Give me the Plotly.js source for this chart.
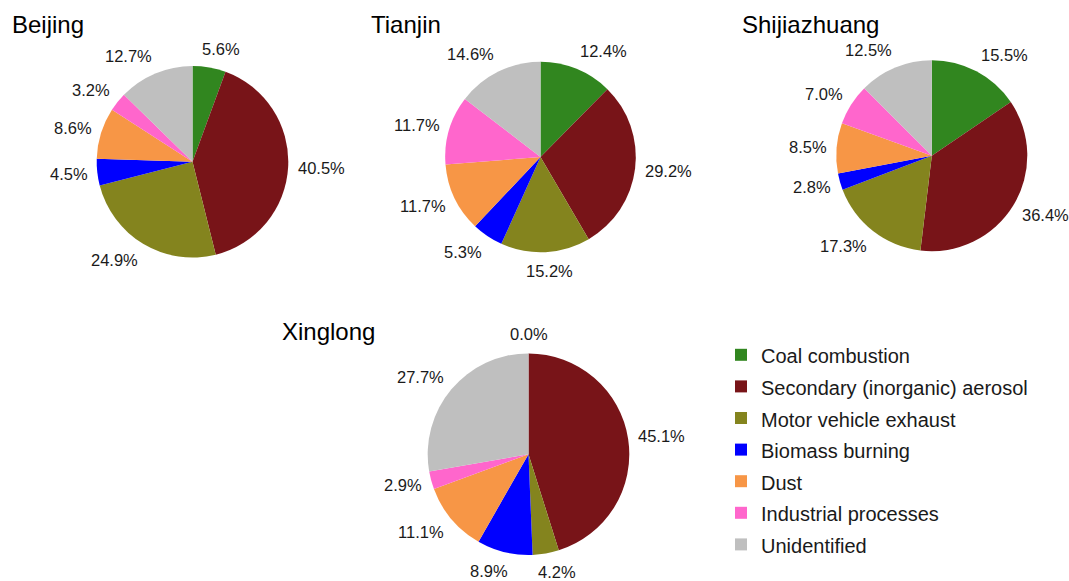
<!DOCTYPE html>
<html>
<head>
<meta charset="utf-8">
<script src="https://cdn.plot.ly/plotly-3.0.1.min.js"></script>
<style>html,body{margin:0;padding:0;background:#fff;}#chart{width:1069px;height:581px;}</style>
</head>
<body>
<div id="chart"></div>
<script>
// ---- data ----
var sources = ["Coal combustion", "Secondary (inorganic) aerosol", "Motor vehicle exhaust",
               "Biomass burning", "Dust", "Industrial processes", "Unidentified"];
var sites = ["Beijing", "Tianjin", "Shijiazhuang", "Xinglong"];
var beijingValues      = [5.6, 40.5, 24.9, 4.5, 8.6, 3.2, 12.7];
var tianjinValues      = [12.4, 29.2, 15.2, 5.3, 11.7, 11.7, 14.6];
var shijiazhuangValues = [15.5, 36.4, 17.3, 2.8, 8.5, 7.0, 12.5];
var xinglongValues     = [0.0, 45.1, 4.2, 8.9, 11.1, 2.9, 27.7];
var sourceColors = ["#31861F", "#781418", "#84841E", "#0000FF", "#F79646", "#FF66CC", "#BFBFBF"];

// ---- layout geometry (pixels) ----
var W = 1069, H = 581;
var FONT = "Liberation Sans, Arial, sans-serif";
var LABEL_SIZE = 16.5;
var pieGeom = [
  {cx: 192.5, cy: 161.7, r: 95.8, tx: 10,  ty: 24},
  {cx: 540.5, cy: 157.0, r: 95.3, tx: 369, ty: 24},
  {cx: 931.8, cy: 155.7, r: 95.5, tx: 740, ty: 24},
  {cx: 528.5, cy: 454.2, r: 100.8, tx: 280, ty: 331}
];
var siteValues = [beijingValues, tianjinValues, shijiazhuangValues, xinglongValues];

function dom(g) {
  return {
    x: [(g.cx - g.r) / W, (g.cx + g.r) / W],
    y: [1 - (g.cy + g.r) / H, 1 - (g.cy - g.r) / H]
  };
}

var traces = siteValues.map(function (vals, i) {
  return {
    type: "pie",
    name: sites[i],
    labels: sources.map(function (s) { return '<span style="font-size:20px">' + s + '</span>'; }),
    values: vals,
    domain: dom(pieGeom[i]),
    sort: false,
    direction: "clockwise",
    rotation: 0,
    textinfo: "none",
    marker: {colors: sourceColors, line: {width: 0}},
    showlegend: i === 0,
    automargin: false,
    hoverinfo: "label+value"
  };
});

// text measurement for outside-end labels
var cnv = document.createElement("canvas").getContext("2d");
cnv.font = LABEL_SIZE + "px 'Liberation Sans', Arial, sans-serif";

var annotations = sites.map(function (s, i) {
  return {
    xref: "paper", yref: "paper",
    x: pieGeom[i].tx / W, y: 1 - pieGeom[i].ty / H,
    xanchor: "left", yanchor: "middle",
    text: s, showarrow: false,
    font: {family: FONT, size: 24, color: "#000"}
  };
});

// percentage labels placed outside each slice, derived from the slice mid-angle
siteValues.forEach(function (vals, i) {
  var g = pieGeom[i];
  var total = vals.reduce(function (a, b) { return a + b; }, 0);
  var cum = 0;
  var R = g.r + 10;
  var hh = 9;
  vals.forEach(function (v) {
    var mid = (cum + v / 2) / total * 2 * Math.PI;
    cum += v;
    var txt = v.toFixed(1) + "%";
    var w = cnv.measureText(txt).width;
    var s = Math.sin(mid), c = Math.cos(mid);
    var sx = (s >= 0 ? 1 : -1) * Math.min(1, 3 * Math.abs(s)) * (w / 2);
    var sy = -c * hh;
    var px = g.cx + R * s + sx;
    var py = g.cy - R * c + sy;
    annotations.push({
      xref: "paper", yref: "paper",
      x: px / W, y: 1 - py / H,
      xanchor: "center", yanchor: "middle",
      text: txt, showarrow: false,
      font: {family: FONT, size: LABEL_SIZE, color: "#1a1a1a"}
    });
  });
});

var layout = {
  width: W, height: H,
  margin: {l: 0, r: 0, t: 0, b: 0},
  paper_bgcolor: "#fff",
  font: {family: FONT, color: "#000"},
  showlegend: true,
  legend: {
    x: 721 / W, y: 1 - 334 / H, xanchor: "left", yanchor: "top",
    font: {family: FONT, size: 22, color: "#1a1a1a"},
    traceorder: "normal",
    bgcolor: "rgba(0,0,0,0)"
  },
  annotations: annotations
};

Plotly.newPlot("chart", traces, layout, {displayModeBar: false, staticPlot: true});
</script>
</body>
</html>
